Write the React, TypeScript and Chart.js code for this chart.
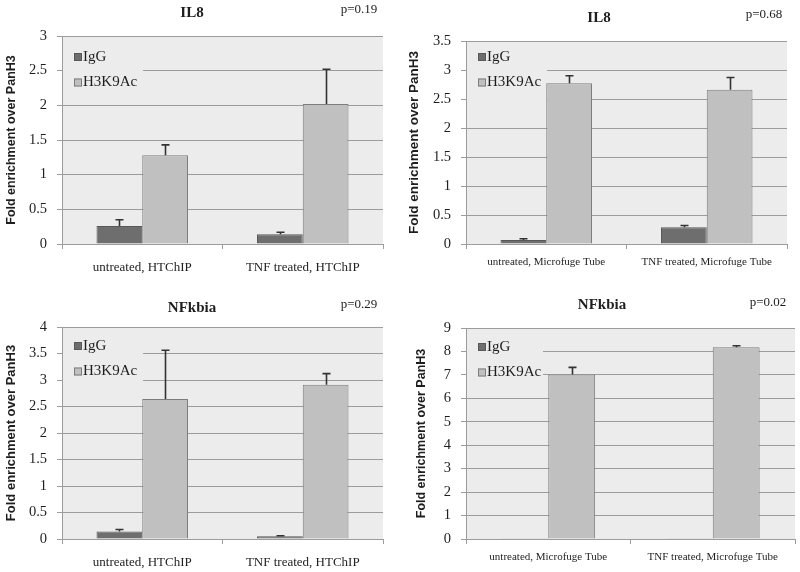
import React, { useEffect, useRef } from "react";
import { Chart, registerables } from "chart.js";

Chart.register(...registerables);

// ---- data ----
const htchipCategories = ["untreated, HTChIP", "TNF treated, HTChIP"];
const tubeCategories = ["untreated, Microfuge Tube", "TNF treated, Microfuge Tube"];
const seriesNames = ["IgG", "H3K9Ac"];

const il8HtchipIgG = [0.26, 0.14];
const il8HtchipIgGErr = [0.09, 0.03];
const il8HtchipH3 = [1.28, 2.02];
const il8HtchipH3Err = [0.15, 0.5];

const il8TubeIgG = [0.07, 0.29];
const il8TubeIgGErr = [0.02, 0.03];
const il8TubeH3 = [2.77, 2.66];
const il8TubeH3Err = [0.13, 0.21];

const nfHtchipIgG = [0.14, 0.05];
const nfHtchipIgGErr = [0.04, 0.01];
const nfHtchipH3 = [2.64, 2.91];
const nfHtchipH3Err = [0.92, 0.21];

const nfTubeIgG = [0.01, 0.01];
const nfTubeIgGErr = [0, 0];
const nfTubeH3 = [7.02, 8.18];
const nfTubeH3Err = [0.3, 0.06];

const yTicksMax = [3, 3.5, 4, 9];
const yTicksStep = [0.5, 0.5, 0.5, 1];

const titles = ["IL8", "IL8", "NFkbia", "NFkbia"];
const pValues = ["p=0.19", "p=0.68", "p=0.29", "p=0.02"];
const yAxisTitle = "Fold enrichment over PanH3";

// ---- styles ----
const W = 400;
const H = 286;
const PLOT_BG = "#ececec";
const GRID = "#9c9c9c";
const IGG_FILL = "#6e6e6e";
const IGG_BORDER = "#585858";
const H3_FILL = "#c0c0c0";
const H3_BORDER = "#7c7c7c";
const ERR = "#333333";
const TEXT = "#1e1e1e";
const SERIF = "'Liberation Serif', serif";
const SANS = "'Liberation Sans', sans-serif";

type PanelSpec = {
  x: number;
  y: number;
  labels: string[];
  igg: number[];
  iggErr: number[];
  h3: number[];
  h3Err: number[];
  idx: number;
  area: { l: number; r: number; t: number; b: number };
  titlePos: [number, number];
  pPos: [number, number];
  xFont: number;
  xPad: number;
  yTitleSize: number;
  yTitlePad: number;
  legendTop: number;
  legendW: number;
};

const panels: PanelSpec[] = [
  {
    x: 0, y: 0, labels: htchipCategories, igg: il8HtchipIgG, iggErr: il8HtchipIgGErr, h3: il8HtchipH3, h3Err: il8HtchipH3Err, idx: 0,
    area: { l: 62, r: 383, t: 36, b: 244 }, titlePos: [192, 13], pPos: [359, 10], xFont: 13, xPad: 11, yTitleSize: 12.5, yTitlePad: 4, legendTop: 21, legendW: 80,
  },
  {
    x: 400, y: 0, labels: tubeCategories, igg: il8TubeIgG, iggErr: il8TubeIgGErr, h3: il8TubeH3, h3Err: il8TubeH3Err, idx: 1,
    area: { l: 66, r: 387, t: 41, b: 244 }, titlePos: [199, 18], pPos: [364, 15], xFont: 11, xPad: 7, yTitleSize: 13.5, yTitlePad: 6, legendTop: 16, legendW: 80,
  },
  {
    x: 0, y: 286, labels: htchipCategories, igg: nfHtchipIgG, iggErr: nfHtchipIgGErr, h3: nfHtchipH3, h3Err: nfHtchipH3Err, idx: 2,
    area: { l: 62, r: 383, t: 41, b: 253 }, titlePos: [192, 22], pPos: [359, 19], xFont: 13, xPad: 11, yTitleSize: 13, yTitlePad: 4, legendTop: 19, legendW: 80,
  },
  {
    x: 400, y: 286, labels: tubeCategories, igg: nfTubeIgG, iggErr: nfTubeIgGErr, h3: nfTubeH3, h3Err: nfTubeH3Err, idx: 3,
    area: { l: 66, r: 395, t: 42, b: 253 }, titlePos: [202, 19], pPos: [368, 17], xFont: 11, xPad: 7, yTitleSize: 12.5, yTitlePad: 14, legendTop: 19, legendW: 76,
  },
];

function Panel({ spec }: { spec: PanelSpec }) {
  const ref = useRef<HTMLCanvasElement | null>(null);

  useEffect(() => {
    const canvas = ref.current;
    if (!canvas) return;
    const errs = [spec.iggErr, spec.h3Err];
    const fills = [IGG_FILL, H3_FILL];
    const borders = [IGG_BORDER, H3_BORDER];
    const { l, r, t, b } = spec.area;

    const decor = {
      id: "decor",
      beforeDraw(chart: any) {
        const ca = chart.chartArea;
        const ctx = chart.ctx;
        ctx.save();
        ctx.fillStyle = PLOT_BG;
        ctx.fillRect(ca.left, ca.top, ca.right - ca.left, ca.bottom - ca.top);
        ctx.restore();
      },
      beforeDatasetsDraw(chart: any) {
        const ca = chart.chartArea;
        const ctx = chart.ctx;
        ctx.save();
        // legend box covering gridlines
        ctx.fillStyle = PLOT_BG;
        ctx.fillRect(ca.left + 1, ca.top + 1, spec.legendW, 58);
        ctx.font = `15px ${SERIF}`;
        ctx.textBaseline = "middle";
        ctx.textAlign = "left";
        seriesNames.forEach((name, i) => {
          const cy = ca.top + spec.legendTop + i * 25.5;
          const sx = ca.left + 12;
          ctx.fillStyle = fills[i];
          ctx.fillRect(sx, cy - 4, 8, 8);
          ctx.strokeStyle = borders[i];
          ctx.lineWidth = 1;
          ctx.strokeRect(sx + 0.5, cy - 3.5, 7, 7);
          ctx.fillStyle = TEXT;
          ctx.fillText(name, sx + 9, cy);
        });
        ctx.restore();
      },
      afterDatasetsDraw(chart: any) {
        const ctx = chart.ctx;
        const yScale = chart.scales.y;
        ctx.save();
        ctx.strokeStyle = ERR;
        ctx.lineWidth = 1.6;
        chart.data.datasets.forEach((ds: any, i: number) => {
          const meta = chart.getDatasetMeta(i);
          meta.data.forEach((bar: any, j: number) => {
            const e = errs[i][j];
            if (!e) return;
            const yTop = yScale.getPixelForValue(ds.data[j] + e);
            const x = Math.round(bar.x) + 0.5;
            ctx.beginPath();
            ctx.moveTo(x, bar.y);
            ctx.lineTo(x, yTop);
            ctx.moveTo(x - 4, yTop);
            ctx.lineTo(x + 4, yTop);
            ctx.stroke();
          });
        });
        ctx.restore();
      },
      afterDraw(chart: any) {
        const ctx = chart.ctx;
        ctx.save();
        ctx.fillStyle = TEXT;
        ctx.textAlign = "center";
        ctx.textBaseline = "middle";
        ctx.font = `bold 15px ${SERIF}`;
        ctx.fillText(titles[spec.idx], spec.titlePos[0], spec.titlePos[1]);
        ctx.font = `13px ${SERIF}`;
        ctx.fillText(pValues[spec.idx], spec.pPos[0], spec.pPos[1]);
        ctx.restore();
      },
    };

    const chart = new Chart(canvas, {
      type: "bar",
      data: {
        labels: spec.labels,
        datasets: [
          {
            label: seriesNames[0],
            data: spec.igg,
            backgroundColor: IGG_FILL,
            borderColor: IGG_BORDER,
            borderWidth: 1,
            categoryPercentage: 0.57,
            barPercentage: 1,
          },
          {
            label: seriesNames[1],
            data: spec.h3,
            backgroundColor: H3_FILL,
            borderColor: H3_BORDER,
            borderWidth: 1,
            categoryPercentage: 0.57,
            barPercentage: 1,
          },
        ],
      },
      options: {
        responsive: false,
        animation: false,
        devicePixelRatio: 1,
        layout: { padding: { left: 0, right: W - r, top: t, bottom: 0 } },
        plugins: {
          legend: { display: false },
          title: { display: false },
          tooltip: { enabled: false },
        },
        scales: {
          x: {
            grid: { drawOnChartArea: false, drawTicks: true, tickLength: 5, color: GRID, offset: true },
            border: { display: true, color: GRID },
            ticks: {
              color: TEXT,
              font: { family: SERIF, size: spec.xFont },
              padding: spec.xPad,
              maxRotation: 0,
              autoSkip: false,
            },
            afterFit: (s: any) => {
              s.height = H - b;
            },
          },
          y: {
            min: 0,
            max: yTicksMax[spec.idx],
            grid: { color: GRID, tickLength: 5, drawTicks: true },
            border: { display: true, color: GRID },
            ticks: {
              stepSize: yTicksStep[spec.idx],
              color: TEXT,
              font: { family: SERIF, size: 14.5 },
              padding: 10,
              callback: (v: any) => String(Math.round(Number(v) * 100) / 100),
            },
            title: {
              display: true,
              text: yAxisTitle,
              color: TEXT,
              font: { family: SANS, size: spec.yTitleSize, weight: "bold" },
              padding: { top: spec.yTitlePad, bottom: 0 },
            },
            afterFit: (s: any) => {
              s.width = l;
            },
          },
        },
      },
      plugins: [decor],
    } as any);

    return () => chart.destroy();
  }, [spec]);

  return (
    <canvas
      ref={ref}
      width={W}
      height={H}
      style={{ position: "absolute", left: spec.x, top: spec.y, width: W, height: H }}
    />
  );
}

export default function App() {
  return (
    <div
      style={{
        position: "absolute",
        left: 0,
        top: 0,
        width: 800,
        height: 572,
        background: "#ffffff",
        overflow: "hidden",
      }}
    >
      {panels.map((p, i) => (
        <Panel key={i} spec={p} />
      ))}
    </div>
  );
}
